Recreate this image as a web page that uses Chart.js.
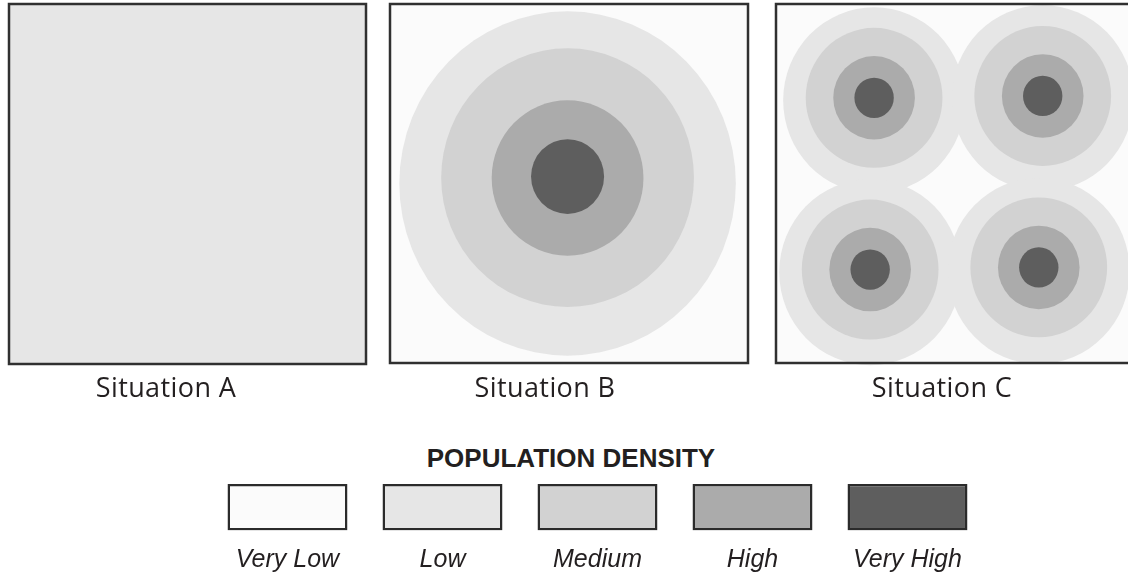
<!DOCTYPE html>
<html>
<head>
<meta charset="utf-8">
<script src="https://cdn.jsdelivr.net/npm/chart.js@4.4.1/dist/chart.umd.min.js"></script>
<style>
  html, body { margin: 0; padding: 0; background: #fff; }
  body { width: 1128px; height: 577px; overflow: hidden; position: relative; }
  canvas { position: absolute; }
  .caption { position: absolute; width: 300px; text-align: center; white-space: nowrap;
             font-family: "Open Sans", sans-serif; font-size: 27px; line-height: 27px;
             letter-spacing: 0.4px; color: #231f20; }
  .legend-title { position: absolute; width: 400px; text-align: center; white-space: nowrap;
                  font-family: "Liberation Sans", Arial, sans-serif; font-weight: bold;
                  font-size: 26px; line-height: 26px; color: #231f20; }
</style>
</head>
<body>
<canvas id="panel-a" width="373" height="376" style="left:1px;top:-4px"></canvas>
<canvas id="panel-b" width="374" height="375" style="left:382px;top:-4px"></canvas>
<canvas id="panel-c" width="374" height="375" style="left:768px;top:-4px"></canvas>
<div class="caption" style="left:16px;top:373px">Situation A</div>
<div class="caption" style="left:395px;top:373px">Situation B</div>
<div class="caption" style="left:792px;top:373px">Situation C</div>
<div class="legend-title" style="left:371px;top:445px">POPULATION DENSITY</div>
<canvas id="legend" width="795" height="103" style="left:200px;top:474px"></canvas>
<script>
// Density classes, lightest to darkest
var levels = ['Very Low', 'Low', 'Medium', 'High', 'Very High'];
var levelColors = ['#fbfbfb', '#e6e6e6', '#d2d2d2', '#ababab', '#5e5e5e'];

var situations = ['Situation A', 'Situation B', 'Situation C'];
// background density of each situation (index into levels)
var baseLevel = [1, 0, 0];

// density rings, panel units: x 0..100, y 0..98 (y up), r in x units
var ringsA = [];
var ringsB = [
  { level: 1, x: 49.6, y: 49.0, r: 47.0 },
  { level: 2, x: 49.6, y: 50.6, r: 35.3 },
  { level: 3, x: 49.6, y: 50.5, r: 21.2 },
  { level: 4, x: 49.6, y: 50.9, r: 10.2 }
];
var ringsC = [
  { level: 1, x: 27.4, y: 71.7, r: 25.4 },
  { level: 1, x: 74.5, y: 72.3, r: 25.4 },
  { level: 1, x: 26.3, y: 24.8, r: 25.4 },
  { level: 1, x: 73.4, y: 25.1, r: 25.4 },
  { level: 2, x: 27.4, y: 72.4, r: 19.1 },
  { level: 2, x: 74.5, y: 72.9, r: 19.1 },
  { level: 2, x: 26.3, y: 25.5, r: 19.1 },
  { level: 2, x: 73.4, y: 26.1, r: 19.1 },
  { level: 3, x: 27.4, y: 72.4, r: 11.4 },
  { level: 3, x: 74.5, y: 72.9, r: 11.4 },
  { level: 3, x: 26.3, y: 25.5, r: 11.4 },
  { level: 3, x: 73.4, y: 26.1, r: 11.4 },
  { level: 4, x: 27.4, y: 72.4, r: 5.5 },
  { level: 4, x: 74.5, y: 72.9, r: 5.5 },
  { level: 4, x: 26.3, y: 25.5, r: 5.5 },
  { level: 4, x: 73.4, y: 26.1, r: 5.5 }
];

// one swatch per class in the legend
var swatchValues = [1, 1, 1, 1, 1];

var FRAME = '#303030';

// Fills the panel, draws each ring as an ellipse through the x/y scales, then the frame
var ringsPlugin = {
  id: 'rings',
  beforeDatasetsDraw: function (chart, args, opts) {
    var ctx = chart.ctx, a = chart.chartArea;
    var xs = chart.scales.x, ys = chart.scales.y;
    ctx.save();
    ctx.fillStyle = levelColors[opts.base];
    ctx.fillRect(a.left, a.top, a.right - a.left, a.bottom - a.top);
    chart.data.datasets.forEach(function (ds) {
      ctx.fillStyle = ds.backgroundColor;
      ds.data.forEach(function (p) {
        var cx = xs.getPixelForValue(p.x), cy = ys.getPixelForValue(p.y);
        var rx = Math.abs(xs.getPixelForValue(p.x + p.r) - cx);
        var ry = Math.abs(ys.getPixelForValue(p.y + p.r) - cy);
        ctx.beginPath();
        ctx.ellipse(cx, cy, rx, ry, 0, 0, Math.PI * 2);
        ctx.fill();
      });
    });
    ctx.restore();
  },
  afterDraw: function (chart) {
    var ctx = chart.ctx, a = chart.chartArea;
    ctx.save();
    ctx.strokeStyle = FRAME;
    ctx.lineWidth = 2.5;
    ctx.strokeRect(a.left, a.top, a.right - a.left, a.bottom - a.top);
    ctx.restore();
  }
};

function panel(id, rings, base) {
  var datasets = [];
  for (var l = 1; l < levels.length; l++) {
    var pts = rings.filter(function (r) { return r.level === l; });
    if (!pts.length) continue;
    datasets.push({ label: levels[l], data: pts, backgroundColor: levelColors[l], pointRadius: 0 });
  }
  new Chart(document.getElementById(id), {
    type: 'scatter',
    data: { datasets: datasets },
    options: {
      responsive: false,
      animation: false,
      events: [],
      layout: { padding: 8 },
      scales: {
        x: { type: 'linear', min: 0, max: 100, display: false },
        y: { type: 'linear', min: 0, max: 98, display: false }
      },
      plugins: { legend: { display: false }, tooltip: { enabled: false }, rings: { base: base } }
    },
    plugins: [ringsPlugin]
  });
}

panel('panel-a', ringsA, baseLevel[0]);
panel('panel-b', ringsB, baseLevel[1]);
panel('panel-c', ringsC, baseLevel[2]);

// Legend — one framed swatch per density class
new Chart(document.getElementById('legend'), {
  type: 'bar',
  data: {
    labels: levels,
    datasets: [{
      data: swatchValues,
      backgroundColor: levelColors,
      borderColor: '#2b2b2b',
      borderWidth: 2.5,
      borderSkipped: false,
      barPercentage: 0.774,
      categoryPercentage: 1
    }]
  },
  options: {
    responsive: false,
    animation: false,
    events: [],
    layout: { padding: { left: 10, right: 10, top: 10, bottom: 0 } },
    scales: {
      x: {
        grid: { display: false, drawTicks: false },
        border: { display: false },
        ticks: { padding: 15, color: '#231f20',
                 font: { family: '"Liberation Sans", Arial, sans-serif', size: 25, style: 'italic' } }
      },
      y: { min: 0, max: 1, display: false }
    },
    plugins: { legend: { display: false }, tooltip: { enabled: false } }
  }
});
</script>
</body>
</html>
